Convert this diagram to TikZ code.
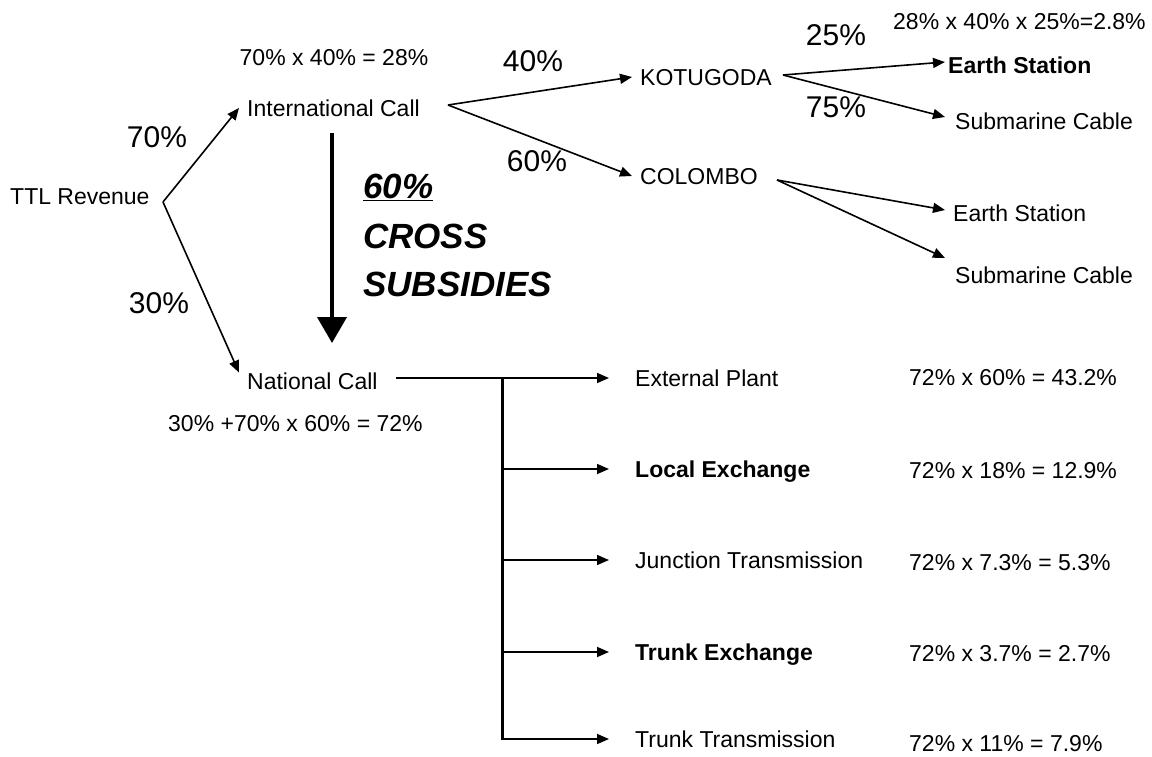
\documentclass[tikz,border=0pt]{standalone}
\usepackage{fontspec}
\setmainfont{Liberation Sans}
\usetikzlibrary{arrows.meta}
\begin{document}
\begin{tikzpicture}[x=1pt,y=-1pt,
  txt/.style={font=\fontsize{23}{27}\selectfont, inner ysep=0pt, inner xsep=8pt, text height=16.5pt, text depth=0pt, anchor=west},
  btxt/.style={txt, font=\fontsize{23}{27}\selectfont\bfseries},
  frm/.style={txt, inner xsep=0pt},
  pct/.style={font=\fontsize{30}{34}\selectfont, inner sep=0pt, text height=21.5pt, text depth=0pt},
  bigtxt/.style={font=\fontsize{35}{40}\selectfont\bfseries\itshape, inner sep=0pt, text height=25pt, text depth=0pt, anchor=west},
  bitem/.style={txt, inner xsep=26pt},
  bbitem/.style={btxt, inner xsep=26pt},
  arr/.style={line width=1.6pt, -{Triangle[length=12pt,width=10pt]}},
  bar/.style={line width=3pt},
  bigarr/.style={line width=4pt, -{Triangle[length=26pt,width=29pt]}}
]
\useasboundingbox (0,0) rectangle (1152,757);

% left part
\node[txt] (ttl) at (2,196) {TTL Revenue};
\coordinate (v0) at (163,202);
\node[txt] (intl) at (239,108) {International Call};
\node[txt] (natl) at (239,381) {National Call};
\node[txt, anchor=center] (f1) at (334,57) {70\% x 40\% = 28\%};
\node[pct] (p70) at (157,137) {70\%};
\node[pct] (p30) at (159,303) {30\%};
\draw[arr] (v0) -- (intl.west);
\draw[arr] (v0) -- (natl.north west);
\node[frm] (f3) at (168,423) {30\% +70\% x 60\% = 72\%};

% cross subsidies
\coordinate (bt) at (332,133);
\coordinate (bb) at (332,343);
\draw[bigarr] (bt) -- (bb);
\node[bigtxt] (c60) at (363,186) {\underline{60\%}};
\node[bigtxt] (cross) at (363,236) {CROSS};
\node[bigtxt] (subs) at (363,284) {SUBSIDIES};

% international branch
\coordinate (iv) at (448,105);
\node[txt] (kot) at (632,77) {KOTUGODA};
\node[txt] (col) at (632,176) {COLOMBO};
\node[pct] (p40) at (533,61) {40\%};
\node[pct] (p60) at (537,161) {60\%};
\draw[arr] (iv) -- (kot.west);
\draw[arr] (iv) -- (col.west);

\coordinate (kv) at (783,75);
\coordinate (cv) at (777,180);
\node[btxt, inner xsep=3pt] (es1) at (945,65) {Earth Station};
\node[txt, inner xsep=10pt] (sc1) at (945,121) {Submarine Cable};
\node[txt] (es2) at (945,213) {Earth Station};
\node[txt, inner xsep=10pt] (sc2) at (945,275) {Submarine Cable};
\node[pct] (p25) at (836,35) {25\%};
\node[pct] (p75) at (836,107) {75\%};
\node[frm] (f2) at (893,21) {28\% x 40\% x 25\%=2.8\%};
\draw[arr] (kv) -- ([yshift=3pt]es1.west);
\draw[arr] (kv) -- ([yshift=4pt]sc1.west);
\draw[arr] (cv) -- ([yshift=3pt]es2.west);
\draw[arr] (cv) -- ([yshift=17pt]sc2.west);

% national branch
\node[bitem] (ext) at (609,378) {External Plant};
\node[bbitem] (loc) at (609,469) {Local Exchange};
\node[bitem] (jun) at (609,560) {Junction Transmission};
\node[bbitem] (tex) at (609,652) {Trunk Exchange};
\node[bitem] (ttr) at (609,739) {Trunk Transmission};
\coordinate (b0) at (502,378);
\coordinate (b1) at (502,469);
\coordinate (b2) at (502,560);
\coordinate (b3) at (502,652);
\coordinate (b4) at (502,739);
\draw[arr] ([xshift=10pt,yshift=3pt]natl.east) -- (ext.west);
\draw[bar] (b0) -- (b4);
\draw[arr] (b1) -- (loc.west);
\draw[arr] (b2) -- (jun.west);
\draw[arr] (b3) -- (tex.west);
\draw[arr] ([xshift=-1.5pt]b4) -- (ttr.west);

\node[frm] (r1) at (909,377) {72\% x 60\% = 43.2\%};
\node[frm] (r2) at (909,470) {72\% x 18\% = 12.9\%};
\node[frm] (r3) at (909,562) {72\% x 7.3\% = 5.3\%};
\node[frm] (r4) at (909,653) {72\% x 3.7\% = 2.7\%};
\node[frm] (r5) at (909,743) {72\% x 11\% = 7.9\%};
\end{tikzpicture}
\end{document}
